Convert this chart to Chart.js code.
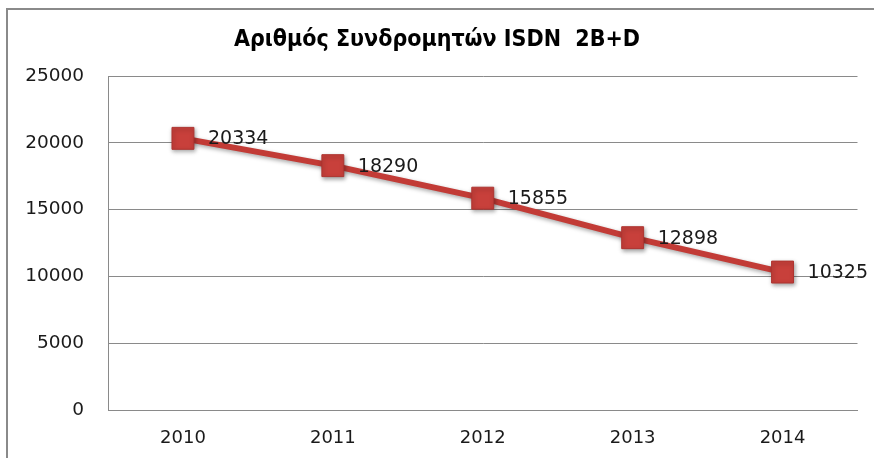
<!DOCTYPE html>
<html><head><meta charset="utf-8">
<script src="https://cdn.jsdelivr.net/npm/chart.js@4/dist/chart.umd.min.js"></script>
<style>html,body{margin:0;padding:0;background:#fff}#wrap{width:874px;height:458px;position:relative}</style>
</head><body><div id="wrap"><canvas id="c" width="874" height="458"></canvas></div>
<script>
const titleText = 'Αριθμός Συνδρομητών ISDN  2B+D';
const years = ['2010', '2011', '2012', '2013', '2014'];
const subscribers = [20334, 18290, 15855, 12898, 10325];
const yTicks = [0, 5000, 10000, 15000, 20000, 25000];

const FONT = "'DejaVu Sans', Verdana, sans-serif";
const TITLE_FONT = "'DejaVu Sans Condensed', 'DejaVu Sans', sans-serif";

const framePlugin = {
  id: 'frame',
  beforeDraw(chart) {
    const ctx = chart.ctx;
    ctx.save();
    ctx.fillStyle = '#fff';
    ctx.fillRect(0, 0, chart.width, chart.height);
    ctx.strokeStyle = '#8a8a8a';
    ctx.lineWidth = 2;
    ctx.beginPath();
    ctx.moveTo(7, chart.height);
    ctx.lineTo(7, 9);
    ctx.lineTo(chart.width, 9);
    ctx.stroke();
    ctx.restore();
  }
};

const labelPlugin = {
  id: 'valueLabels',
  afterDatasetsDraw(chart) {
    const ctx = chart.ctx;
    const meta = chart.getDatasetMeta(0);
    ctx.save();
    ctx.font = '19px ' + FONT;
    ctx.fillStyle = '#1a1a1a';
    ctx.textAlign = 'left';
    ctx.textBaseline = 'middle';
    meta.data.forEach((pt, i) => {
      ctx.fillText(String(chart.data.datasets[0].data[i]), pt.x + 25, pt.y + 1);
    });
    ctx.restore();
  }
};

const shadowPlugin = {
  id: 'shadow',
  beforeDatasetDraw(chart) {
    const ctx = chart.ctx;
    ctx.save();
    ctx.shadowColor = 'rgba(0,0,0,0.35)';
    ctx.shadowBlur = 4;
    ctx.shadowOffsetX = 1;
    ctx.shadowOffsetY = 2;
  },
  afterDatasetDraw(chart) {
    chart.ctx.restore();
  }
};

new Chart(document.getElementById('c'), {
  type: 'line',
  data: {
    labels: years,
    datasets: [{
      data: subscribers,
      borderColor: '#C23B36',
      borderWidth: 6,
      backgroundColor: '#C8403B',
      pointStyle: 'rect',
      pointRadius: 15.5,
      pointHoverRadius: 15.5,
      pointBackgroundColor: '#C8403B',
      pointBorderColor: '#AE3430',
      pointBorderWidth: 1,
      tension: 0,
      fill: false
    }]
  },
  options: {
    responsive: false,
    animation: false,
    events: [],
    layout: { padding: { left: 16, right: 16, top: 0, bottom: 0 } },
    plugins: {
      legend: { display: false },
      tooltip: { enabled: false },
      title: {
        display: true,
        text: titleText,
        color: '#000',
        font: { family: TITLE_FONT, size: 23, weight: 'bold', lineHeight: 1.2 },
        padding: { top: 26.5, bottom: 21.9 }
      }
    },
    scales: {
      x: {
        offset: true,
        grid: { display: false, drawTicks: false },
        border: { display: true, color: '#8a8a8a', width: 1 },
        ticks: { color: '#1a1a1a', font: { family: FONT, size: 18 }, padding: 18 },
        afterFit(s) { s.height = 48; }
      },
      y: {
        min: 0, max: 25000,
        afterBuildTicks(s) { s.ticks = yTicks.map(v => ({ value: v })); },
        grid: { color: '#8a8a8a', drawTicks: false, lineWidth: 1 },
        border: { display: true, color: '#8a8a8a', width: 1 },
        ticks: { color: '#1a1a1a', font: { family: FONT, size: 18.5 }, padding: 24, callback: v => String(v) },
        afterFit(s) { s.width = 92; }
      }
    }
  },
  plugins: [framePlugin, shadowPlugin, labelPlugin]
});
</script></body></html>
